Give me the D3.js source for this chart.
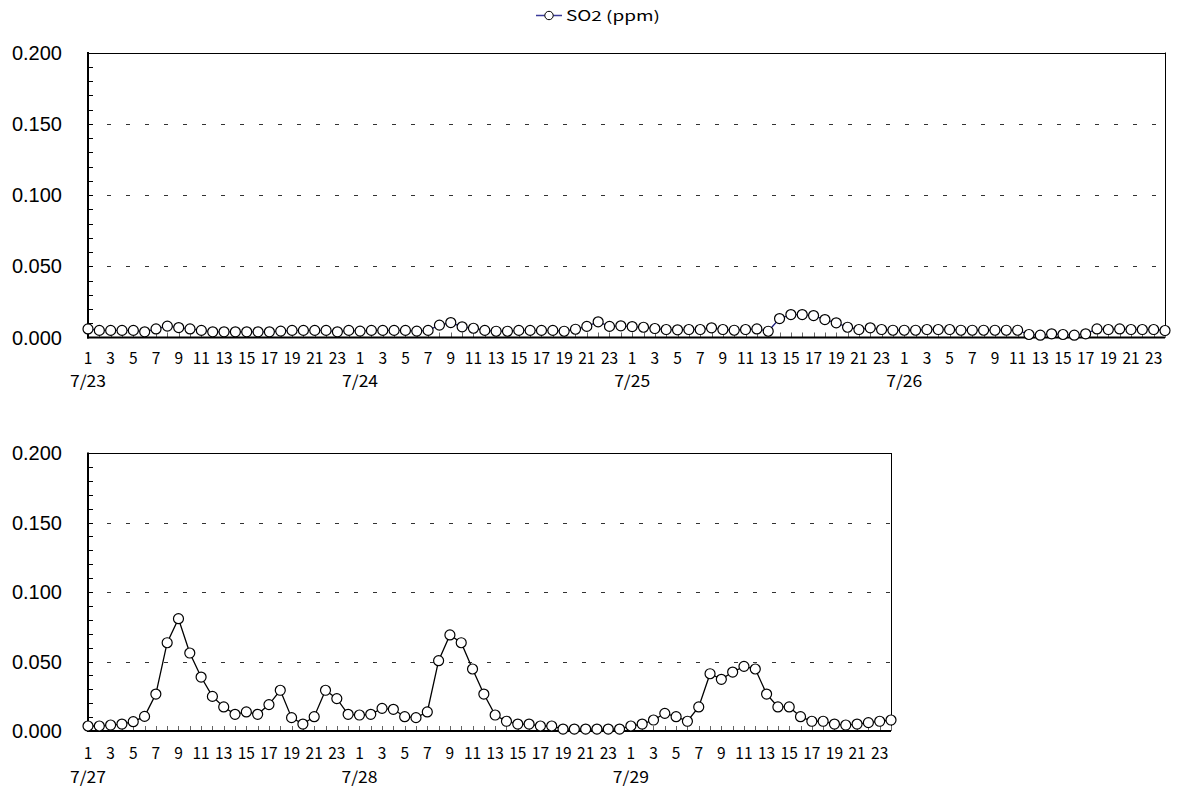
<!DOCTYPE html>
<html><head><meta charset="utf-8">
<script src="https://cdn.jsdelivr.net/npm/d3@7"></script>
<style>body{margin:0;background:#fff}svg{display:block}</style>
</head><body>
<svg id="c" width="1177" height="794"></svg>
<script>
// ---- data ----
const hourLabels = [1,2,3,4,5,6,7,8,9,10,11,12,13,14,15,16,17,18,19,20,21,22,23,24];
const datesTop = ["7/23","7/24","7/25","7/26"];
const datesBottom = ["7/27","7/28","7/29"];
const so2_0723 = [0.006,0.005,0.005,0.005,0.005,0.004,0.006,0.008,0.007,0.006,0.005,0.004,0.004,0.004,0.004,0.004,0.004,0.0045,0.005,0.005,0.005,0.005,0.004,0.005];
const so2_0724 = [0.0045,0.005,0.005,0.005,0.005,0.0045,0.005,0.0087,0.0105,0.0075,0.0065,0.005,0.0044,0.0044,0.005,0.005,0.005,0.005,0.0044,0.0058,0.0078,0.011,0.0078,0.0082];
const so2_0725 = [0.0077,0.0072,0.0063,0.0056,0.0054,0.0056,0.0056,0.0068,0.0056,0.0051,0.0056,0.006,0.0044,0.0133,0.0161,0.0161,0.0154,0.0126,0.0103,0.0072,0.0056,0.0068,0.0056,0.0051];
const so2_0726 = [0.0051,0.0051,0.0056,0.0056,0.0056,0.0051,0.0051,0.0051,0.0051,0.0051,0.0051,0.0021,0.0016,0.0026,0.0021,0.0016,0.0026,0.006,0.0056,0.006,0.0056,0.0056,0.0056,0.0049];
const so2_0727 = [0.0036,0.0036,0.0043,0.005,0.0067,0.0105,0.0266,0.0635,0.0808,0.0561,0.0388,0.0249,0.0173,0.012,0.0137,0.012,0.019,0.0293,0.0096,0.005,0.0103,0.0293,0.0233,0.012];
const so2_0728 = [0.0115,0.012,0.0163,0.0156,0.0103,0.0096,0.0137,0.0506,0.0691,0.0635,0.0446,0.0266,0.0115,0.007,0.005,0.005,0.0036,0.0036,0.0014,0.0014,0.0014,0.0014,0.0014,0.0014];
const so2_0729 = [0.0036,0.005,0.0079,0.0127,0.0103,0.007,0.0173,0.0412,0.0372,0.0424,0.0465,0.0446,0.0266,0.0173,0.0173,0.0103,0.007,0.007,0.005,0.0043,0.005,0.006,0.007,0.0079];
const yTickValues = [0, 0.05, 0.1, 0.15, 0.2];
const yTickLabels = ["0.000","0.050","0.100","0.150","0.200"];
const legendLabel = "SO2 (ppm)";

const svg = d3.select("#c");

function panel(dates, series, o) {
  const values = series.flat();
  const n = values.length;
  const g = svg.append("g");
  const x = d3.scaleLinear().domain([0, n - 1]).range([o.x0, o.x1]);
  const y = d3.scaleLinear().domain([0, 0.2]).range([o.yb, o.yt]);

  // dashed gridlines
  g.selectAll(".grid").data(yTickValues.filter(v => v > 0 && v < 0.2)).join("line")
    .attr("x1", o.x0).attr("x2", o.x1)
    .attr("y1", d => Math.round(y(d)) + 0.5).attr("y2", d => Math.round(y(d)) + 0.5)
    .attr("stroke", "#333").attr("stroke-width", 1).attr("stroke-dasharray", "4,15");

  // top and right border
  g.append("line").attr("x1", o.x0).attr("x2", o.x1)
    .attr("y1", Math.round(y(0.2)) + 0.5).attr("y2", Math.round(y(0.2)) + 0.5)
    .attr("stroke", "#000").attr("stroke-width", 1);
  g.append("line").attr("x1", Math.round(o.x1) + 0.5).attr("x2", Math.round(o.x1) + 0.5)
    .attr("y1", y(0.2)).attr("y2", y(0))
    .attr("stroke", "#000").attr("stroke-width", 1);

  // y minor ticks (inside)
  const minor = d3.range(1, 20).map(i => i / 100);
  g.selectAll(".ymt").data(minor).join("line")
    .attr("x1", o.x0).attr("x2", o.x0 + 5)
    .attr("y1", d => Math.round(y(d)) + 0.5).attr("y2", d => Math.round(y(d)) + 0.5)
    .attr("stroke", "#000").attr("stroke-width", 1);

  // x ticks (inside, upward)
  g.selectAll(".xt").data(d3.range(n)).join("line")
    .attr("x1", d => Math.round(x(d)) + 0.5).attr("x2", d => Math.round(x(d)) + 0.5)
    .attr("y1", y(0)).attr("y2", y(0) - 5)
    .attr("stroke", "#666").attr("stroke-width", 1);

  // axes
  g.append("line").attr("x1", o.x0).attr("x2", o.x0).attr("y1", y(0.2) - 0.5).attr("y2", y(0) + 1)
    .attr("stroke", "#000").attr("stroke-width", 2);
  g.append("line").attr("x1", o.x0 - 1).attr("x2", o.x1).attr("y1", y(0)).attr("y2", y(0))
    .attr("stroke", "#000").attr("stroke-width", 2);

  // y labels
  g.selectAll(".yl").data(yTickValues).join("text")
    .attr("x", 62).attr("y", d => y(d)).attr("dy", "0.36em")
    .attr("text-anchor", "end")
    .style("font-family", "'Liberation Sans', Arial, sans-serif").style("font-size", "20px")
    .text((d, i) => yTickLabels[i]);

  // x hour labels (odd hours)
  const idx = d3.range(n).filter(i => hourLabels[i % 24] % 2 === 1);
  g.selectAll(".xl").data(idx).join("text")
    .attr("x", d => x(d)).attr("y", o.yb + o.hourDy)
    .attr("text-anchor", "middle")
    .style("font-family", "'Noto Sans CJK JP', sans-serif").style("font-size", "16px")
    .attr("textLength", d => String(hourLabels[d % 24]).length * 8.6)
    .attr("lengthAdjust", "spacingAndGlyphs")
    .text(d => hourLabels[d % 24]);

  // date labels
  g.selectAll(".dl").data(dates).join("text")
    .attr("x", (d, i) => x(i * 24)).attr("y", o.yb + o.dateDy)
    .attr("text-anchor", "middle")
    .style("font-family", "'Noto Sans CJK JP', sans-serif").style("font-size", "16px")
    .attr("textLength", 36).attr("lengthAdjust", "spacingAndGlyphs")
    .text(d => d);

  // series
  const line = d3.line().x((d, i) => x(i)).y(d => y(d));
  g.append("path").datum(values).attr("d", line)
    .attr("fill", "none").attr("stroke", o.lineColor).attr("stroke-width", 1.3);
  g.selectAll(".pt").data(values).join("circle")
    .attr("cx", (d, i) => x(i)).attr("cy", d => y(d)).attr("r", 5)
    .attr("fill", "#fff").attr("stroke", "#000").attr("stroke-width", 1.2);
}

panel(datesTop, [so2_0723, so2_0724, so2_0725, so2_0726],
  {x0: 88, x1: 1165, yt: 52.5, yb: 337.5, lineColor: "#1c1c7a", hourDy: 26, dateDy: 49});
panel(datesBottom, [so2_0727, so2_0728, so2_0729],
  {x0: 88, x1: 891, yt: 453, yb: 731, lineColor: "#000", hourDy: 28, dateDy: 51.5});

// legend
const lg = svg.append("g");
lg.append("line").attr("x1", 536).attr("x2", 562).attr("y1", 15.5).attr("y2", 15.5)
  .attr("stroke", "#3b3b9a").attr("stroke-width", 1.5);
lg.append("circle").attr("cx", 549).attr("cy", 15.5).attr("r", 4.2)
  .attr("fill", "#fff").attr("stroke", "#000").attr("stroke-width", 1);
lg.append("text").attr("x", 566).attr("y", 15.5).attr("dy", "0.36em")
  .style("font-family", "'Noto Sans CJK JP', sans-serif").style("font-size", "14px")
  .attr("textLength", 94).attr("lengthAdjust", "spacingAndGlyphs")
  .text(legendLabel);
</script>
</body></html>
